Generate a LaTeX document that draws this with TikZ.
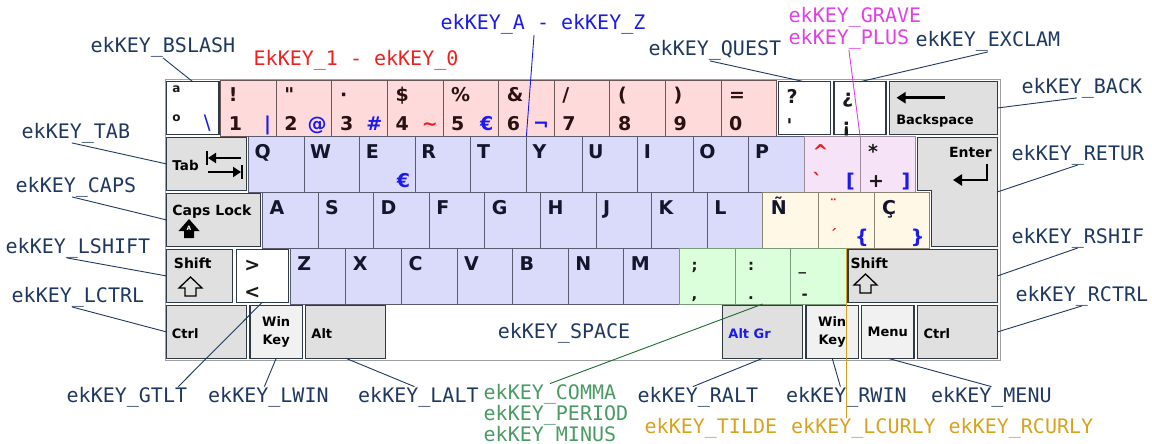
\documentclass[tikz,border=0pt]{standalone}
\usepackage{fontspec}
\setsansfont{DejaVu Sans}
\setmonofont{DejaVu Sans Mono}
\usetikzlibrary{arrows.meta,positioning,calc}
\definecolor{kpink}{HTML}{FFDADA}
\definecolor{klav}{HTML}{DADAFA}
\definecolor{kmauve}{HTML}{F7E3F7}
\definecolor{kcream}{HTML}{FFF8E6}
\definecolor{kmint}{HTML}{DAFFDA}
\definecolor{kgray}{HTML}{E0E0E0}
\definecolor{klight}{HTML}{F1F1F1}
\definecolor{keyedge}{HTML}{2E3A46}
\definecolor{pinkedge}{HTML}{6A5858}
\definecolor{lavedge}{HTML}{5A5A70}
\definecolor{mauveedge}{HTML}{9A8A9A}
\definecolor{creamedge}{HTML}{8A8470}
\definecolor{mintedge}{HTML}{7A9A7A}
\definecolor{numink}{HTML}{2A1212}
\definecolor{letink}{HTML}{14142A}
\definecolor{agblue}{HTML}{1A1AF0}
\definecolor{agred}{HTML}{F01A1A}
\definecolor{lblnavy}{HTML}{1F3860}
\definecolor{lblred}{HTML}{F0201E}
\definecolor{lblblue}{HTML}{1A1AF0}
\definecolor{lblpink}{HTML}{E040E8}
\definecolor{lblgreen}{HTML}{4A9A64}
\definecolor{lnkgreen}{HTML}{1E6B30}
\definecolor{lblgold}{HTML}{D8A21C}
\definecolor{framegray}{HTML}{A0A0A0}
\tikzset{
  keycap/.style={draw, anchor=center, inner sep=0pt, outer sep=0pt, minimum height=56pt, minimum width=55.6pt, line width=0.8pt},
  numkey/.style={keycap, fill=kpink, draw=pinkedge},
  letkey/.style={keycap, fill=klav, draw=lavedge},
  accentkey/.style={keycap, fill=kmauve, draw=mauveedge},
  esckey/.style={keycap, fill=kcream, draw=creamedge},
  punckey/.style={keycap, fill=kmint, draw=mintedge},
  blankkey/.style={keycap, fill=white, draw=keyedge, line width=1.4pt, minimum height=52.5pt, minimum width=52.1pt},
  modkey/.style={keycap, fill=kgray, draw=keyedge, line width=1.4pt, minimum height=52.5pt},
  winkey/.style={modkey, fill=klight},
  lg/.style={inner sep=0pt, anchor=base west, font=\sffamily\bfseries\fontsize{19}{19}\selectfont, text=black!90},
  modtxt/.style={inner sep=0pt, anchor=base west, font=\sffamily\bfseries\fontsize{13}{18}\selectfont, text=black},
  lbl/.style={inner sep=0pt, anchor=base west, font=\ttfamily\fontsize{20}{20}\selectfont, text=lblnavy},
  ln/.style={draw=lblnavy, line width=0.9pt},
  icon/.style={line width=2.4pt, -{Triangle[length=9pt, width=11pt]}},
  shiftarrow/.pic={\draw[line width=1.3pt, line join=miter] (0,0) -- (11.5,11) -- (5.5,11) -- (5.5,19) -- (-5.5,19) -- (-5.5,11) -- (-11.5,11) -- cycle;},
}
\newcommand\lgtop[3][]{\node[lg,#1] at ([shift={(8,22)}]#2.north west) {#3};}
\newcommand\lgbot[3][]{\node[lg,#1] at ([shift={(8,51)}]#2.north west) {#3};}
\newcommand\lgalt[3][]{\node[lg,anchor=base east,#1] at ([shift={(-5,51)}]#2.north east) {#3};}
\begin{document}
\begin{tikzpicture}[x=1pt, y=-1pt]
  \useasboundingbox (0,0) rectangle (1152,444);
  \draw[framegray, line width=1pt] (165,80) rectangle (1000,360.5);

  % number row
  \node[blankkey] (bslash) at (192.8,108) {};
  \node[lg, font=\sffamily\bfseries\fontsize{12}{12}\selectfont] at ([shift={(5.5,11)}]bslash.north west) {a};
  \node[lg, font=\sffamily\bfseries\fontsize{12}{12}\selectfont] at ([shift={(5.5,40)}]bslash.north west) {o};
  \node[lg, anchor=base east, text=agblue, font=\sffamily\fontsize{20}{20}\selectfont] at ([shift={(-8,48)}]bslash.north east) {\textbackslash};
  \foreach \sh/\dg/\ag/\agc [count=\i] in {!/1/{|}/agblue, {\textquotedbl}/2/@/agblue, {·}/3/\#/agblue, \$/4/\textasciitilde/agred, \%/5/€/agblue, \&/6/¬/agblue, {/}/7/{}/agblue, {(}/8/{}/agblue, {)}/9/{}/agblue, {=}/0/{}/agblue}{
    \node[numkey] (n\dg) at ({165+55.6*\i+27.8},108) {};
    \lgtop[text=numink]{n\dg}{\sh}
    \lgbot[text=numink]{n\dg}{\dg}
    \lgalt[text=\agc]{n\dg}{\ag}
  }
  \node[blankkey] (quest) at (804.4,108) {};
  \lgtop{quest}{?}
  \lgbot{quest}{\textquotesingle}
  \node[blankkey] (exclam) at (860,108) {};
  \lgtop{exclam}{¿}
  \lgbot{exclam}{¡}
  \node[modkey, minimum width=107.7pt] (back) at (943.4,108) {};
  \draw[icon, line width=2.6pt] ([shift={(55,16)}]back.north west) -- ++(-48,0);
  \node[modtxt] at ([shift={(6.5,42.5)}]back.north west) {Backspace};

  % top letter row
  \node[modkey, minimum width=79.9pt] (tab) at (206.7,164) {};
  \node[modtxt, font=\sffamily\bfseries\fontsize{13.5}{13.5}\selectfont] at ([shift={(5.5,32.5)}]tab.north west) {Tab};
  \draw[icon, -{Triangle[length=8pt, width=10pt]}] (241,158) -- (208,158);
  \draw[line width=2pt] (207,151) -- (207,165);
  \draw[icon, -{Triangle[length=8pt, width=10pt]}] (208,172) -- (241,172);
  \draw[line width=2pt] (242,165) -- (242,179);
  \foreach \kl [count=\i from 0] in {Q,W,E,R,T,Y,U,I,O,P}{
    \node[letkey] (k\kl) at ({276.2+55.6*\i},164) {};
    \lgtop[xshift=-2pt, text=letink]{k\kl}{\kl}
  }
  \lgalt[text=agblue]{kE}{€}
  \node[accentkey] (grave) at (832.2,164) {};
  \lgtop[text=agred]{grave}{\textasciicircum}
  \lgbot[text=agred]{grave}{\textasciigrave}
  \lgalt[text=agblue]{grave}{[}
  \node[accentkey] (plus) at (887.8,164) {};
  \lgtop{plus}{*}
  \lgbot{plus}{+}
  \lgalt[text=agblue]{plus}{]}
  \draw[keyedge, fill=kgray, line width=1.4pt] (917.35,137.75) -- (997.25,137.75) -- (997.25,246.25) -- (931.25,246.25) -- (931.25,190.25) -- (917.35,190.25) -- cycle;
  \coordinate (enter) at (997.25,192);
  \node[modtxt, anchor=base east, font=\sffamily\bfseries\fontsize{14}{14}\selectfont] at (992,157) {Enter};
  \draw[icon, line join=miter] (987,164) -- (987,180) -- (953,180);

  % home row
  \node[modkey, minimum width=93.8pt] (caps) at (213.65,220) {};
  \node[modtxt, font=\sffamily\bfseries\fontsize{14}{14}\selectfont] at ([shift={(5.5,21.5)}]caps.north west) {Caps Lock};
  \fill (189,219) -- (199.5,231) -- (194,231) -- (194,238) -- (184,238) -- (184,231) -- (178.5,231) -- cycle;
  \node[inner sep=0pt, text=white, font=\sffamily\bfseries\fontsize{6}{6}\selectfont] at (189,228) {A};
  \foreach \kl [count=\i from 0] in {A,S,D,F,G,H,J,K,L}{
    \node[letkey] (k\kl) at ({290.1+55.6*\i},220) {};
    \lgtop[xshift=-1pt, text=letink]{k\kl}{\kl}
  }
  \node[esckey] (ntilde) at (790.5,220) {};
  \lgtop[text=letink]{ntilde}{Ñ}
  \node[esckey] (diaer) at (846.1,220) {};
  \node[lg, text=agred, font=\sffamily\bfseries\fontsize{15}{15}\selectfont] at ([shift={(11,18)}]diaer.north west) {¨};
  \node[lg, text=agred, font=\sffamily\bfseries\fontsize{15}{15}\selectfont] at ([shift={(11,48)}]diaer.north west) {´};
  \lgalt[text=agblue]{diaer}{\{}
  \node[esckey] (cced) at (901.7,220) {};
  \lgtop[text=letink]{cced}{Ç}
  \lgalt[text=agblue]{cced}{\}}

  % bottom letter row
  \node[modkey, minimum width=66pt] (lshift) at (199.75,276) {};
  \node[modtxt, font=\sffamily\bfseries\fontsize{14}{14}\selectfont] at ([shift={(7,18.5)}]lshift.north west) {Shift};
  \pic at (190.5,277) {shiftarrow};
  \node[blankkey] (gtlt) at (262.3,276) {};
  \lgtop{gtlt}{>}
  \lgbot[yshift=2pt]{gtlt}{<}
  \foreach \kl [count=\i from 0] in {Z,X,C,V,B,N,M}{
    \node[letkey] (k\kl) at ({317.9+55.6*\i},276) {};
    \lgtop[xshift=-1pt, text=letink]{k\kl}{\kl}
  }
  \node[punckey] (comma) at (707.1,276) {};
  \lgtop[xshift=4pt, font=\sffamily\bfseries\fontsize{15}{15}\selectfont]{comma}{;}
  \lgbot[xshift=4pt, font=\sffamily\bfseries\fontsize{15}{15}\selectfont]{comma}{,}
  \node[punckey] (period) at (762.7,276) {};
  \lgtop[xshift=5pt, font=\sffamily\bfseries\fontsize{15}{15}\selectfont]{period}{:}
  \lgbot[xshift=5pt, font=\sffamily\bfseries\fontsize{15}{15}\selectfont]{period}{.}
  \node[punckey] (minus) at (818.3,276) {};
  \lgtop[font=\sffamily\bfseries\fontsize{15}{15}\selectfont]{minus}{\_}
  \lgbot[xshift=3pt, font=\sffamily\bfseries\fontsize{15}{15}\selectfont]{minus}{-}
  \node[modkey, minimum width=149.4pt] (rshift) at (922.55,276) {};
  \node[modtxt, font=\sffamily\bfseries\fontsize{14}{14}\selectfont] at ([shift={(2.5,18.5)}]rshift.north west) {Shift};
  \pic at (865.5,274) {shiftarrow};

  % space row
  \node[modkey, minimum width=79.9pt] (lctrl) at (206.7,332) {};
  \node[modtxt] at ([shift={(5,32.5)}]lctrl.north west) {Ctrl};
  \node[winkey, minimum width=52.1pt] (lwin) at (276.2,332) {};
  \node[modtxt, anchor=center, align=center] at (lwin) {Win\\Key};
  \node[modkey, minimum width=79.9pt] (lalt) at (345.7,332) {};
  \node[modtxt] at ([shift={(5.5,32.5)}]lalt.north west) {Alt};
  \node[lbl, anchor=base] (lbSpace) at (564,338) {ekKEY\_SPACE};
  \node[modkey, minimum width=79.9pt] (altgr) at (762.7,332) {};
  \node[modtxt, text=agblue] at ([shift={(5.5,32.5)}]altgr.north west) {Alt Gr};
  \node[winkey, minimum width=52.1pt] (rwin) at (832.2,332) {};
  \node[modtxt, anchor=center, align=center] at (rwin) {Win\\Key};
  \node[winkey, minimum width=52.1pt] (menu) at (887.8,332) {};
  \node[modtxt, anchor=center] at (menu) {Menu};
  \node[modkey, minimum width=79.9pt] (rctrl) at (957.3,332) {};
  \node[modtxt] at ([shift={(6,32.5)}]rctrl.north west) {Ctrl};

  % key code labels
  \node[lbl] (lbBslash) at (90.5,53) {ekKEY\_BSLASH};
  \node[lbl, text=lblred] (lbDigits) at (253.5,66) {EkKEY\_1 - ekKEY\_0};
  \node[lbl, text=lblblue] (lbLetters) at (440.5,30) {ekKEY\_A - ekKEY\_Z};
  \node[lbl] (lbQuest) at (648.5,56) {ekKEY\_QUEST};
  \node[lbl, text=lblpink] (lbGrave) at (788.5,23) {ekKEY\_GRAVE};
  \node[lbl, text=lblpink] (lbPlus) at (788.5,45) {ekKEY\_PLUS};
  \node[lbl] (lbExclam) at (915.5,47) {ekKEY\_EXCLAM};
  \node[lbl] (lbBack) at (1021.5,93) {ekKEY\_BACK};
  \node[lbl] (lbTab) at (21.5,138) {ekKEY\_TAB};
  \node[lbl] (lbCaps) at (15.5,192) {ekKEY\_CAPS};
  \node[lbl] (lbLshift) at (5.5,253) {ekKEY\_LSHIFT};
  \node[lbl] (lbLctrl) at (11.5,302) {ekKEY\_LCTRL};
  \node[lbl] (lbReturn) at (1011.5,160) {ekKEY\_RETUR};
  \node[lbl] (lbRshift) at (1011.5,243) {ekKEY\_RSHIF};
  \node[lbl] (lbRctrl) at (1015.5,301) {ekKEY\_RCTRL};
  \node[lbl] (lbGtlt) at (66.5,402) {ekKEY\_GTLT};
  \node[lbl] (lbLwin) at (208,402) {ekKEY\_LWIN};
  \node[lbl] (lbLalt) at (358,402) {ekKEY\_LALT};
  \node[lbl, text=lblgreen] (lbComma) at (483.5,399) {ekKEY\_COMMA};
  \node[lbl, text=lblgreen] (lbPeriod) at (483.5,420) {ekKEY\_PERIOD};
  \node[lbl, text=lblgreen] (lbMinus) at (483.5,441) {ekKEY\_MINUS};
  \node[lbl] (lbRalt) at (637.5,402) {ekKEY\_RALT};
  \node[lbl] (lbRwin) at (786,402) {ekKEY\_RWIN};
  \node[lbl] (lbMenu) at (931,402) {ekKEY\_MENU};
  \node[lbl, text=lblgold] (lbTilde) at (644.5,433) {ekKEY\_TILDE};
  \node[lbl, text=lblgold] (lbLcurly) at (791,433) {ekKEY\_LCURLY};
  \node[lbl, text=lblgold] (lbRcurly) at (948.5,433) {ekKEY\_RCURLY};

  % connectors
  \draw[ln] (lbBslash.south) -- (bslash.north);
  \draw[ln, draw=lblblue] ([xshift=-9pt]lbLetters.south) -- (kY.north west);
  \draw[ln] ([xshift=-5pt]lbQuest.south) -- (quest.north);
  \draw[ln, draw=lblpink] (lbPlus.south) -- (plus.north west);
  \draw[ln] (lbExclam.south) -- (exclam.north);
  \draw[ln] ([xshift=-5pt]lbBack.south) -- (back.east);
  \draw[ln] ([xshift=-4pt]lbTab.south) -- (tab.west);
  \draw[ln] ([xshift=-4pt]lbCaps.south) -- (caps.west);
  \draw[ln] ([xshift=-11pt]lbLshift.south) -- (lshift.west);
  \draw[ln] ([xshift=-6pt]lbLctrl.south) -- (lctrl.west);
  \draw[ln] (lbReturn.south) -- (enter);
  \draw[ln] (lbRshift.south) -- (rshift.east);
  \draw[ln] (lbRctrl.south) -- (rctrl.east);
  \draw[ln] (gtlt.south) -- ([xshift=-9pt]lbGtlt.north east);
  \draw[ln] (lwin.south) -- ([xshift=-4pt]lbLwin.north);
  \draw[ln] (lalt.south) -- ([xshift=-4pt]lbLalt.north);
  \draw[ln, draw=lnkgreen] (period.south) -- (lbComma.north);
  \draw[ln] (altgr.south) -- ([xshift=-5pt]lbRalt.north);
  \draw[ln] (rwin.south) -- ([xshift=-6pt]lbRwin.north);
  \draw[ln] (menu.south) -- (lbMenu.north);
  \draw[ln, draw=lblgold] (diaer.south) -- (diaer.south |- lbLcurly.north);
\end{tikzpicture}
\end{document}
